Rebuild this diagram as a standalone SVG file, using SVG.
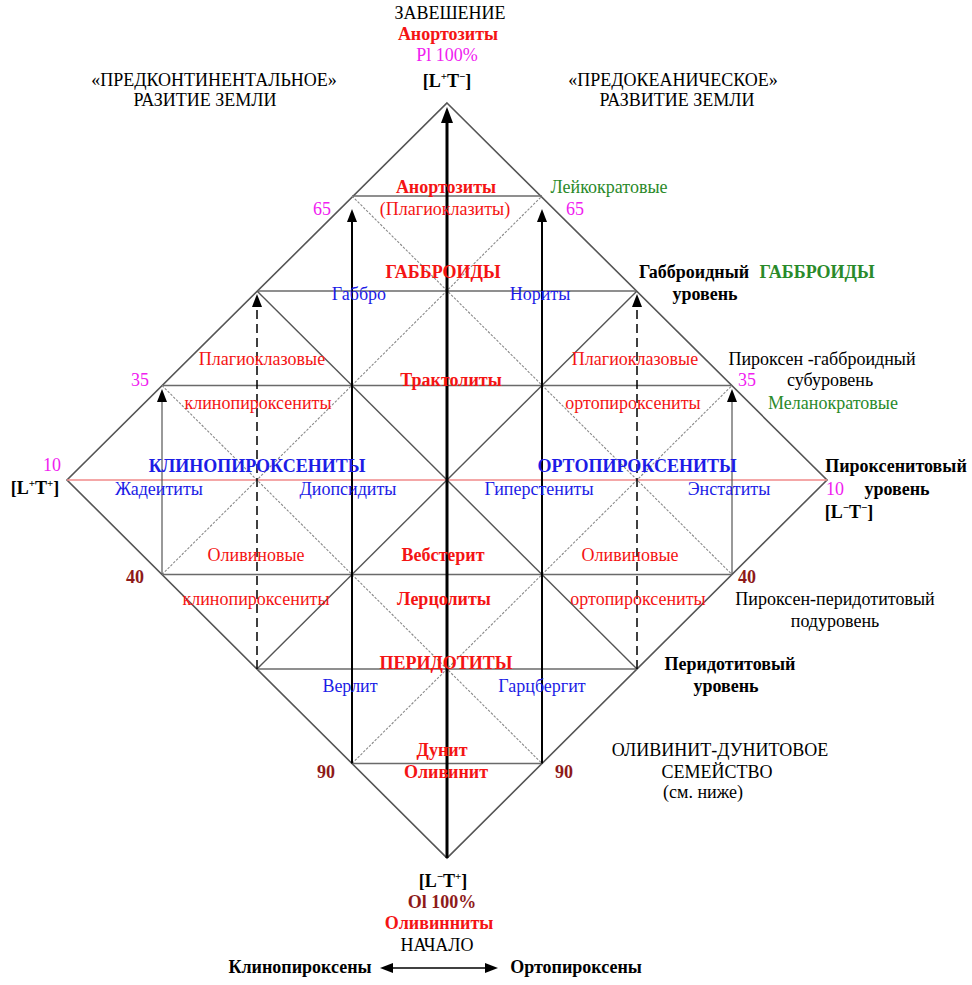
<svg xmlns="http://www.w3.org/2000/svg" width="972" height="985" viewBox="0 0 972 985">
<defs>
<style>
text{font-family:"Liberation Serif","Times New Roman",serif;font-size:18px;text-anchor:middle}
.b{font-weight:bold}
.k{fill:#000}
.r{fill:#f41414}
.bl{fill:#1c1ce6}
.g{fill:#2a8a2a}
.m{fill:#f020f0}
.dr{fill:#8e1a1a}
.sup{font-size:11px}
.edge{stroke:#555;stroke-width:1.6;fill:none}
.hl{stroke:#6a6a6a;stroke-width:1.3}
.dg{stroke:#555;stroke-width:1.4}
.dot{stroke:#8a8a8a;stroke-width:1.1;stroke-dasharray:2.5 1.5}
</style>
<marker id="ah" markerUnits="userSpaceOnUse" markerWidth="16" markerHeight="12" refX="0" refY="6" orient="auto" viewBox="0 0 16 12"><path d="M0,0 L16,6 L0,12 z" fill="#000"/></marker>
<marker id="ahs" markerUnits="userSpaceOnUse" markerWidth="13" markerHeight="10" refX="0" refY="5" orient="auto-start-reverse" viewBox="0 0 13 10"><path d="M0,0 L13,5 L0,10 z" fill="#000"/></marker>
</defs>
<rect width="972" height="985" fill="#fff"/>
<g id="grid">
<polygon class="edge" points="447,103 827,480 447,858 67,480"/>
<line class="hl" x1="352" y1="196" x2="542" y2="196"/>
<line class="hl" x1="257" y1="291" x2="637" y2="291"/>
<line class="hl" x1="162" y1="385.5" x2="732" y2="385.5"/>
<line x1="67" y1="480" x2="827" y2="480" stroke="#f08a8a" stroke-width="1.5"/>
<line class="hl" x1="162" y1="574.5" x2="732" y2="574.5"/>
<line class="hl" x1="257" y1="669" x2="637" y2="669"/>
<line class="hl" x1="352" y1="763.5" x2="542" y2="763.5"/>
<line class="dg" x1="257" y1="669" x2="637" y2="291"/>
<line class="dg" x1="257" y1="291" x2="637" y2="669"/>
<line class="dot" x1="162" y1="574.5" x2="542" y2="196"/>
<line class="dot" x1="352" y1="763.5" x2="732" y2="385.5"/>
<line class="dot" x1="352" y1="196" x2="732" y2="574.5"/>
<line class="dot" x1="162" y1="385.5" x2="542" y2="763.5"/>
</g>
<g id="connectors">
<line x1="447" y1="858" x2="447" y2="123" stroke="#000" stroke-width="3" marker-end="url(#ah)"/>
<line x1="352" y1="763.5" x2="352" y2="222" stroke="#000" stroke-width="2" marker-end="url(#ahs)"/>
<line x1="542" y1="763.5" x2="542" y2="222" stroke="#000" stroke-width="2" marker-end="url(#ahs)"/>
<line x1="257" y1="669" x2="257" y2="307" stroke="#000" stroke-width="1.5" stroke-dasharray="9 5" marker-end="url(#ahs)"/>
<line x1="637" y1="669" x2="637" y2="307" stroke="#000" stroke-width="1.5" stroke-dasharray="9 5" marker-end="url(#ahs)"/>
<line x1="162" y1="574.5" x2="162" y2="402" stroke="#555" stroke-width="1.2" marker-end="url(#ahs)"/>
<line x1="732" y1="574.5" x2="732" y2="402" stroke="#555" stroke-width="1.2" marker-end="url(#ahs)"/>
<line x1="393" y1="968" x2="485" y2="968" stroke="#000" stroke-width="1.5" marker-start="url(#ahs)" marker-end="url(#ahs)"/>
</g>
<g id="top">
<text class="k" x="450" y="19">ЗАВЕШЕНИЕ</text>
<text class="r b" x="448" y="40">Анортозиты</text>
<text class="m" x="447" y="61">Pl 100%</text>
<text class="k b" x="447" y="87">[L<tspan class="sup" dy="-7">+</tspan><tspan dy="7">T</tspan><tspan class="sup" dy="-7">−</tspan><tspan dy="7">]</tspan></text>
<text class="k" x="214" y="86">«ПРЕДКОНТИНЕНТАЛЬНОЕ»</text>
<text class="k" x="205" y="106">РАЗИТИЕ ЗЕМЛИ</text>
<text class="k" x="673" y="86">«ПРЕДОКЕАНИЧЕСКОЕ»</text>
<text class="k" x="677" y="106">РАЗВИТИЕ ЗЕМЛИ</text>
</g>
<g id="leucocratic">
<text class="r b" x="446" y="193">Анортозиты</text>
<text class="r" x="445" y="215">(Плагиоклазиты)</text>
<text class="m" x="322" y="215">65</text>
<text class="m" x="575" y="215">65</text>
<text class="g" x="609" y="193">Лейкократовые</text>
</g>
<g id="gabbroids">
<text class="r b" x="443" y="278">ГАББРОИДЫ</text>
<text class="bl" x="359" y="300">Габбро</text>
<text class="bl" x="540" y="300">Нориты</text>
<text class="k b" x="694" y="278">Габброидный</text>
<text class="g b" x="817" y="278">ГАББРОИДЫ</text>
<text class="k b" x="705" y="300">уровень</text>
</g>
<g id="plagioclase">
<text class="r" x="262" y="365">Плагиоклазовые</text>
<text class="r" x="258" y="409">клинопироксениты</text>
<text class="m" x="140" y="386">35</text>
<text class="r b" x="451" y="386">Трактолиты</text>
<text class="r" x="635" y="365">Плагиоклазовые</text>
<text class="r" x="633" y="409">ортопироксениты</text>
<text class="k" x="822" y="365">Пироксен -габброидный</text>
<text class="m" x="747" y="386">35</text>
<text class="k" x="830" y="386">субуровень</text>
<text class="g" x="833" y="409">Меланократовые</text>
</g>
<g id="pyroxenites">
<text class="m" x="52" y="471">10</text>
<text class="k b" x="35" y="494">[L<tspan class="sup" dy="-7">+</tspan><tspan dy="7">T</tspan><tspan class="sup" dy="-7">+</tspan><tspan dy="7">]</tspan></text>
<text class="bl b" x="257" y="472">КЛИНОПИРОКСЕНИТЫ</text>
<text class="bl" x="159" y="495">Жадеититы</text>
<text class="bl" x="348" y="495">Диопсидиты</text>
<text class="bl b" x="637" y="472">ОРТОПИРОКСЕНИТЫ</text>
<text class="bl" x="539" y="495">Гиперстениты</text>
<text class="bl" x="729" y="495">Энстатиты</text>
<text class="k b" x="896" y="472">Пироксенитовый</text>
<text class="m" x="835" y="495">10</text>
<text class="k b" x="897" y="495">уровень</text>
<text class="k b" x="849" y="518">[L<tspan class="sup" dy="-7">−</tspan><tspan dy="7">T</tspan><tspan class="sup" dy="-7">−</tspan><tspan dy="7">]</tspan></text>
</g>
<g id="olivine">
<text class="r" x="256" y="561">Оливиновые</text>
<text class="r" x="256" y="605">клинопироксениты</text>
<text class="dr b" x="135" y="583">40</text>
<text class="r b" x="443" y="561">Вебстерит</text>
<text class="r b" x="444" y="605">Лерцолиты</text>
<text class="r" x="630" y="561">Оливиновые</text>
<text class="r" x="638" y="605">ортопироксениты</text>
<text class="dr b" x="747" y="583">40</text>
<text class="k" x="835" y="605">Пироксен-перидотитовый</text>
<text class="k" x="835" y="627">подуровень</text>
</g>
<g id="peridotites">
<text class="r b" x="446" y="669">ПЕРИДОТИТЫ</text>
<text class="bl" x="350" y="692">Верлит</text>
<text class="bl" x="542" y="692">Гарцбергит</text>
<text class="k b" x="730" y="670">Перидотитовый</text>
<text class="k b" x="726" y="692">уровень</text>
</g>
<g id="dunites">
<text class="r b" x="442" y="756">Дунит</text>
<text class="r b" x="446" y="778">Оливинит</text>
<text class="dr b" x="326" y="778">90</text>
<text class="dr b" x="564" y="778">90</text>
<text class="k" x="720" y="756">ОЛИВИНИТ-ДУНИТОВОЕ</text>
<text class="k" x="717" y="778">СЕМЕЙСТВО</text>
<text class="k" x="703" y="798">(см. ниже)</text>
</g>
<g id="bottom">
<text class="k b" x="443" y="887">[L<tspan class="sup" dy="-7">−</tspan><tspan dy="7">T</tspan><tspan class="sup" dy="-7">+</tspan><tspan dy="7">]</tspan></text>
<text class="dr b" x="442" y="908">Ol 100%</text>
<text class="r b" x="439" y="929">Оливинниты</text>
<text class="k" x="437" y="951">НАЧАЛО</text>
<text class="k b" x="300" y="973">Клинопироксены</text>
<text class="k b" x="576" y="973">Ортопироксены</text>
</g>
</svg>
